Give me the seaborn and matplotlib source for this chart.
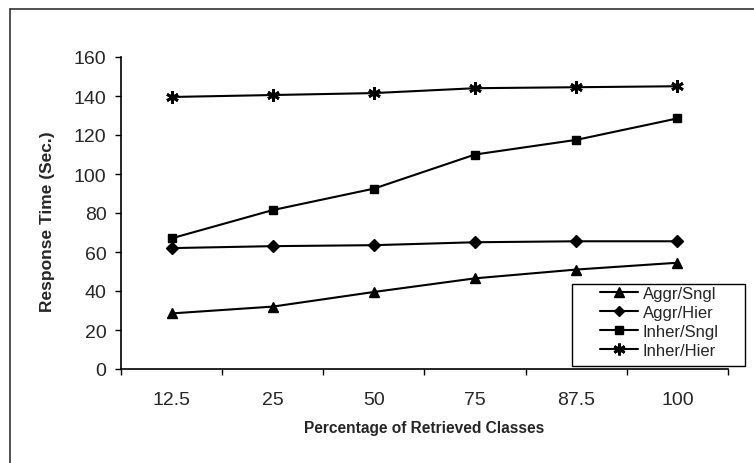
import matplotlib
matplotlib.use("Agg")
import matplotlib.pyplot as plt
from matplotlib.lines import Line2D
from matplotlib.patches import Rectangle
import seaborn as sns
import pandas as pd

# Retrieval percentages (categorical x axis)
categories = ["12.5", "25", "50", "75", "87.5", "100"]

# Response times in seconds
aggr_sngl = [28.5, 32, 39.5, 46.5, 51, 54.5]
aggr_hier = [62, 63, 63.5, 65, 65.5, 65.5]
inher_sngl = [67, 81.5, 92.5, 110, 117.5, 128.5]
inher_hier = [139.5, 140.5, 141.5, 144, 144.5, 145]

series_names = ["Aggr/Sngl", "Aggr/Hier", "Inher/Sngl", "Inher/Hier"]
series_values = [aggr_sngl, aggr_hier, inher_sngl, inher_hier]

rows = []
for name, vals in zip(series_names, series_values):
    for i, (cat, v) in enumerate(zip(categories, vals)):
        rows.append({"pos": i, "Percentage": cat, "Time": v, "Series": name})
df = pd.DataFrame(rows)

sns.set_style("white")
plt.rcParams["font.family"] = ["Liberation Sans", "DejaVu Sans"]

W, H = 754, 464
fig = plt.figure(figsize=(W / 100, H / 100), dpi=100)
ax_left, ax_right, ax_top, ax_bottom = 121, 728, 58, 370
ax = fig.add_axes([ax_left / W, 1 - ax_bottom / H,
                   (ax_right - ax_left) / W, (ax_bottom - ax_top) / H])

markers = {"Aggr/Sngl": "^", "Aggr/Hier": "D", "Inher/Sngl": "s", "Inher/Hier": (6, 2, 0)}
msizes = {"Aggr/Sngl": 7, "Aggr/Hier": 6, "Inher/Sngl": 6, "Inher/Hier": 9}
mew = {"Aggr/Sngl": 1.0, "Aggr/Hier": 1.0, "Inher/Sngl": 1.0, "Inher/Hier": 2.0}

for name in series_names:
    sub = df[df["Series"] == name]
    sns.lineplot(data=sub, x="pos", y="Time", color="black", linewidth=1.5,
                 marker=markers[name], markersize=msizes[name],
                 markerfacecolor="black", markeredgecolor="black",
                 markeredgewidth=mew[name], ax=ax, legend=False)

ax.set_xlim(-0.5, len(categories) - 0.5)
ax.set_ylim(0, 160)
ax.set_yticks(range(0, 161, 20))

# boundary ticks as marks, category names centred between them
ax.set_xticks([i - 0.5 for i in range(len(categories) + 1)])
ax.set_xticklabels([])
ax.set_xticks(range(len(categories)), minor=True)
ax.set_xticklabels(categories, minor=True)
ax.tick_params(axis="x", which="major", direction="out", length=4.5, width=1,
               color="black", bottom=True)
ax.tick_params(axis="x", which="minor", length=0, pad=15.5, labelsize=14)
ax.tick_params(axis="y", direction="out", length=4.5, width=1, color="black",
               left=True, pad=6, labelsize=14)

for side in ["top", "right"]:
    ax.spines[side].set_visible(False)
for side in ["left", "bottom"]:
    ax.spines[side].set_color("black")
    ax.spines[side].set_linewidth(1.2)

ax.set_xlabel("Percentage of Retrieved Classes", fontsize=11.2, fontweight="bold",
              labelpad=9)
ax.set_ylabel("Response Time (Sec.)", fontsize=12.5, fontweight="bold")
ax.yaxis.set_label_coords((55 - ax_left) / (ax_right - ax_left), 0.475)

handles = [Line2D([0], [0], color="black", linewidth=1.5, marker=markers[n],
                  markersize=msizes[n] - 0.5, markerfacecolor="black",
                  markeredgecolor="black", markeredgewidth=mew[n])
           for n in series_names]
leg = fig.legend(handles, series_names, loc="upper left",
                 bbox_to_anchor=(600 / W, 1 - 287 / H), frameon=False,
                 fontsize=12, handlelength=2.3, handletextpad=0.25,
                 labelspacing=0.24, borderpad=0, borderaxespad=0)

# legend box
fig.add_artist(Rectangle((572 / W, 1 - 367 / H), (745 - 572) / W, (367 - 285) / H,
                         transform=fig.transFigure, fill=False,
                         edgecolor="black", linewidth=1.0))

# outer frame lines
fig.add_artist(Line2D([10 / W, 10 / W], [0, 1 - 10 / H], transform=fig.transFigure,
                      color="#333333", linewidth=1.2))
fig.add_artist(Line2D([10 / W, 1], [1 - 10 / H, 1 - 10 / H], transform=fig.transFigure,
                      color="#333333", linewidth=1.2))

fig.savefig("out.png", dpi=100)
